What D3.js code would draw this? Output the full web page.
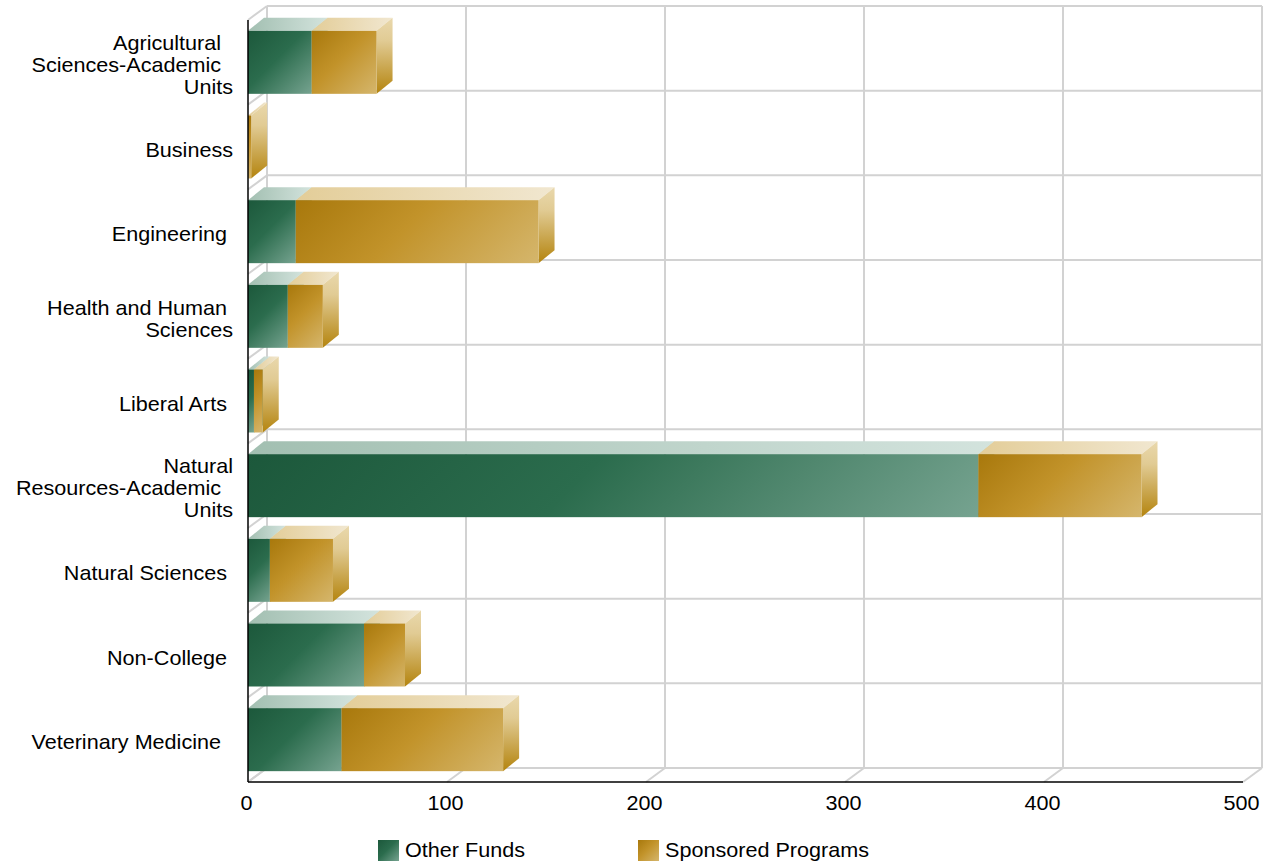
<!DOCTYPE html>
<html>
<head>
<meta charset="utf-8">
<script src="https://cdn.jsdelivr.net/npm/d3@7"></script>
<style>
  html, body { margin: 0; padding: 0; background: #ffffff; }
  svg text { font-family: "Liberation Sans", Arial, sans-serif; fill: #000; white-space: pre; }
</style>
</head>
<body>
<svg id="chart" width="1271" height="864"></svg>
<script>
// ---- Data ----
const categories = [
  "Agricultural Sciences-Academic Units",
  "Business",
  "Engineering",
  "Health and Human Sciences",
  "Liberal Arts",
  "Natural Resources-Academic Units",
  "Natural Sciences",
  "Non-College",
  "Veterinary Medicine"
];
const categoryLines = [
  ["Agricultural  ", "Sciences-Academic  ", "Units"],
  ["Business"],
  ["Engineering "],
  ["Health and Human ", "Sciences"],
  ["Liberal Arts "],
  ["Natural", "Resources-Academic  ", "Units"],
  ["Natural Sciences "],
  ["Non-College "],
  ["Veterinary Medicine  "]
];
const otherFunds        = [32, 0, 24, 20, 3, 367, 11, 58.3, 47];
const sponsoredPrograms = [32.6, 1.6, 122, 17.6, 4.4, 82, 31.7, 20.6, 81.2];
const seriesNames = ["Other Funds", "Sponsored Programs"];
const xTicks = [0, 100, 200, 300, 400, 500];

// ---- Layout ----
const svg = d3.select("#chart");
const pLeft = 248, pRight = 1243, pTop = 20, pBottom = 782;
const wallDx = 19, wallDy = -14;   // depth of the plot box
const barDx = 16, barDy = -13;     // depth of the bars
const fontScale = 1.08;

const x = d3.scaleLinear().domain([0, 500]).range([pLeft, pRight]);
const y = d3.scaleBand().domain(categories).range([pTop, pBottom])
  .paddingInner(0.256).paddingOuter(0.128);
const step = y.step();

// ---- Gradients ----
const defs = svg.append("defs");
const frontStops = {
  g: [[0, "#1c583b"], [0.45, "#2b6c4d"], [1, "#76a390"]],
  o: [[0, "#a8780c"], [0.45, "#c2932a"], [1, "#d5b66c"]]
};
function lin(id, x1, y1, x2, y2, stops, units) {
  const g = defs.append("linearGradient").attr("id", id)
    .attr("x1", x1).attr("y1", y1).attr("x2", x2).attr("y2", y2);
  if (units) g.attr("gradientUnits", units);
  stops.forEach(s => g.append("stop").attr("offset", s[0]).attr("stop-color", s[1]));
}
// 45-degree gradient across a rectangle in user space
let gradCount = 0;
function diagFill(f, rx, ry, w, h) {
  const id = "fg" + (gradCount++);
  const L = (w + h) / 2;
  lin(id, rx, ry, rx + L, ry + L, frontStops[f], "userSpaceOnUse");
  return `url(#${id})`;
}
lin("gTop", 0, 0, 1, 0, [[0, "#a2bfb1"], [1, "#d3e3dd"]]);
lin("gRight", 0, 0, 0, 1, [[0, "#c6dad1"], [1, "#2e6e4f"]]);
lin("oTop", 0, 0, 1, 0, [[0, "#e3cd98"], [1, "#f1e7d0"]]);
lin("oRight", 0, 0, 0, 1, [[0, "#e9d8ac"], [0.3, "#e1cb94"], [1, "#b4840e"]]);

const gridColor = "#d2d2d2";
const grid = svg.append("g").attr("fill", "none").attr("stroke", gridColor).attr("stroke-width", 2);

// back wall vertical lines + floor diagonals
xTicks.forEach(t => {
  grid.append("line").attr("x1", x(t) + wallDx).attr("x2", x(t) + wallDx)
    .attr("y1", pTop + wallDy).attr("y2", pBottom + wallDy);
  grid.append("line").attr("x1", x(t)).attr("y1", pBottom)
    .attr("x2", x(t) + wallDx).attr("y2", pBottom + wallDy);
});
// back wall horizontal band boundaries + left wall diagonals
d3.range(categories.length + 1).forEach(i => {
  const yy = pTop + i * step;
  grid.append("line").attr("x1", pLeft + wallDx).attr("x2", pRight + wallDx)
    .attr("y1", yy + wallDy).attr("y2", yy + wallDy);
  grid.append("line").attr("x1", pLeft).attr("y1", yy)
    .attr("x2", pLeft + wallDx).attr("y2", yy + wallDy);
});

// ---- Bars ----
const barsG = svg.append("g");
categories.forEach((c, i) => {
  const segs = [
    { v0: 0, v1: otherFunds[i], f: "g" },
    { v0: otherFunds[i], v1: otherFunds[i] + sponsoredPrograms[i], f: "o" }
  ];
  const y0 = y(c), h = y.bandwidth();
  segs.forEach(s => {
    if (s.v1 - s.v0 <= 0) return;
    const xa = x(s.v0), xb = x(s.v1);
    barsG.append("path")
      .attr("d", `M${xa},${y0} L${xa + barDx},${y0 + barDy} L${xb + barDx},${y0 + barDy} L${xb},${y0} Z`)
      .attr("fill", `url(#${s.f}Top)`);
    barsG.append("path")
      .attr("d", `M${xb},${y0} L${xb + barDx},${y0 + barDy} L${xb + barDx},${y0 + h + barDy} L${xb},${y0 + h} Z`)
      .attr("fill", `url(#${s.f}Right)`);
    const w = Math.max(xb - xa, 0.5);
    barsG.append("rect").attr("x", xa).attr("y", y0)
      .attr("width", w).attr("height", h)
      .attr("fill", diagFill(s.f, xa, y0, w, h));
  });
});

// ---- Axes lines (front) ----
svg.append("line").attr("x1", pLeft).attr("x2", pLeft).attr("y1", pTop).attr("y2", pBottom)
  .attr("stroke", "#000").attr("stroke-width", 1.5);
svg.append("line").attr("x1", pLeft).attr("x2", pRight).attr("y1", pBottom).attr("y2", pBottom)
  .attr("stroke", "#000").attr("stroke-width", 1.5);

// ---- Tick labels ----
const xAxis = d3.axisBottom(x).tickValues(xTicks).tickSize(0).tickPadding(0).tickFormat(d3.format("d"));
const axG = svg.append("g").attr("transform", `translate(0,${pBottom})`).call(xAxis);
axG.select(".domain").remove();
axG.attr("font-size", null).attr("font-family", null);
axG.selectAll("text")
  .attr("dy", null).attr("y", 0)
  .attr("font-size", 20)
  .attr("text-anchor", "middle")
  .attr("transform", `translate(-2,28) scale(${fontScale},1)`)
  .style("fill", "#000");

// ---- Category labels ----
const labG = svg.append("g");
categories.forEach((c, i) => {
  const lines = categoryLines[i];
  const cy = y(c) + y.bandwidth() / 2;
  lines.forEach((ln, j) => {
    const by = cy + 9.5 + (j - (lines.length - 1) / 2) * 22;
    labG.append("text")
      .attr("transform", `translate(233,${by}) scale(${fontScale},1)`)
      .attr("text-anchor", "end")
      .attr("font-size", 20)
      .text(ln);
  });
});

// ---- Legend ----
const legend = svg.append("g").attr("transform", "translate(378,840)");
const legendX = d3.scalePoint().domain(seriesNames).range([0, 260]);
const legendKey = { "Other Funds": "g", "Sponsored Programs": "o" };
seriesNames.forEach(n => {
  const g = legend.append("g").attr("transform", `translate(${legendX(n)},0)`);
  g.append("rect").attr("width", 21).attr("height", 21)
    .attr("fill", diagFill(legendKey[n], 0, 0, 21, 21));
  g.append("text").attr("transform", `translate(27,16.5) scale(${fontScale},1)`)
    .attr("font-size", 20).text(n);
});
</script>
</body>
</html>
